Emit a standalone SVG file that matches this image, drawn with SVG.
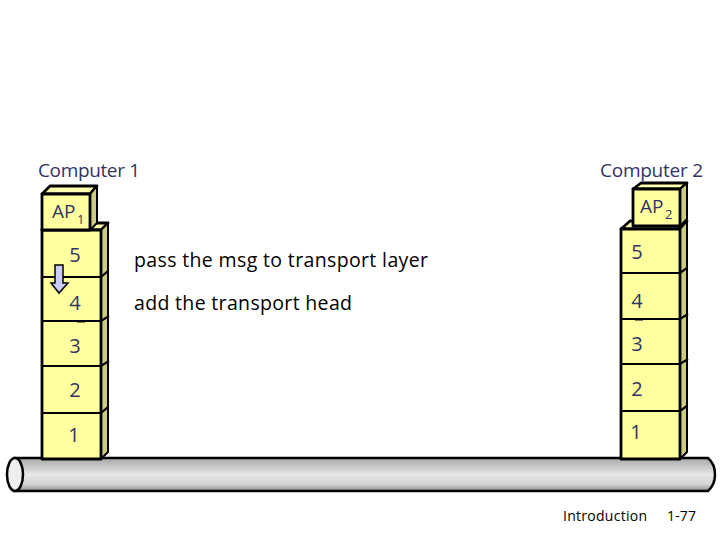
<svg xmlns="http://www.w3.org/2000/svg" width="720" height="540" viewBox="0 0 720 540">
<style>
text{font-family:"Open Sans","DejaVu Sans",sans-serif}
.f{fill:#ffffa0;stroke:#000;stroke-width:2.800;stroke-linejoin:round}
.t{fill:#ffffb0;stroke:#000;stroke-width:2.800;stroke-linejoin:round}
.s{fill:#cccc80;stroke:#000;stroke-width:2;stroke-linejoin:round}
.l{fill:#333366;font-size:19px}
.n{fill:#333366;font-size:20px;text-anchor:middle}
.b{fill:#000;font-size:19.500px}
.sub{fill:#333366;font-size:13px}
.e{fill:none;stroke:#000;stroke-width:2.200}
</style>
<defs>
<linearGradient id="pipe" x1="0" y1="0" x2="0" y2="1">
<stop offset="0" stop-color="#a8a8a8"/><stop offset=".5" stop-color="#e6e6e6"/><stop offset=".8" stop-color="#d4d4d4"/><stop offset="1" stop-color="#8e8e8e"/>
</linearGradient>
</defs>
<g id="cable">
<path d="M15 458H708Q715 464 715 474.500Q715 485 708 491H15Z" fill="url(#pipe)" stroke="#000" stroke-width="2.500"/>
<ellipse cx="15" cy="474.500" rx="8" ry="16.500" fill="#eeeeee" stroke="#000" stroke-width="2.500"/>
</g>
<g id="computer1">
<text class="l" x="38" y="177" textLength="102">Computer 1</text>
<path class="t" d="M42 230L49 223H108L101 230Z"/>
<path class="s" d="M101 230L108 223V452L101 459Z"/>
<rect class="f" x="42" y="230" width="59" height="229"/>
<path class="e" d="M42 277H101L108 271M42 321H101L109 316M42 366H101L109 361M42 413H101L108 407M77 321.500H85"/>
<path class="t" d="M42 194L50 186H97L90 194Z"/>
<path class="s" d="M90 194L97 186V223L90 230Z"/>
<rect class="f" x="42" y="194" width="48" height="36"/>
<text class="l" x="52" y="218">AP</text><text class="sub" x="77" y="224">1</text>
<text class="n" x="75" y="262">5</text><text class="n" x="75" y="310">4</text><text class="n" x="75" y="353">3</text><text class="n" x="75" y="397">2</text><text class="n" x="74" y="442">1</text>
</g>
<g id="computer2">
<text class="l" x="600" y="177" textLength="103">Computer 2</text>
<path class="t" d="M621 229L630 221H687L680 229Z"/>
<path class="s" d="M680 229L687 221V452L680 459Z"/>
<rect class="f" x="621" y="229" width="59" height="230"/>
<path class="e" d="M621 273H680L687 268M621 319H680L688 314M621 364H680L688 359M621 411H680L687 406M635 319.500H643"/>
<path class="t" d="M633 189L641 183H687L680 189Z"/>
<path class="s" d="M680 189L687 183V219L680 226Z"/>
<rect class="f" x="633" y="189" width="47" height="37"/>
<text class="l" x="640" y="213">AP</text><text class="sub" x="665" y="219">2</text>
<text class="n" x="637" y="259">5</text><text class="n" x="637" y="308">4</text><text class="n" x="637" y="351">3</text><text class="n" x="637" y="396">2</text><text class="n" x="636" y="439">1</text>
</g>
<g id="arrow">
<path d="M55 265H63V283H68L59 293L51 283H55Z" fill="#ccccff" stroke="#000" stroke-width="1.500"/>
</g>
<g id="labels">
<text class="b" x="134" y="267" textLength="294">pass the msg to transport layer</text>
<text class="b" x="134" y="310" textLength="218">add the transport head</text>
<text x="563" y="521" font-size="14" fill="#000" textLength="84">Introduction</text>
<text x="667" y="521" font-size="14" fill="#000" textLength="29">1-77</text>
</g>
</svg>
